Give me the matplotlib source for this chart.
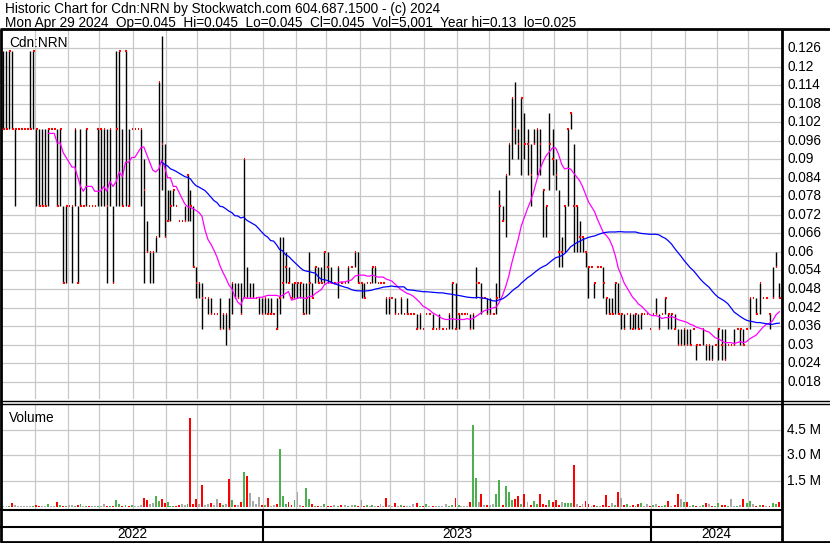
import numpy as np
import pandas as pd
import matplotlib
matplotlib.use('Agg')
import matplotlib.pyplot as plt
from matplotlib.lines import Line2D

plt.rcParams['font.family'] = ['Liberation Sans', 'DejaVu Sans']

# price bars, roughly two trading days each, (low, high, close) in 1/1000 $
price_bars = [
    # May 2022
    [(100,125,100),(100,125,100),(100,125,125),(100,125,100),(75,100,100),(100,100,100),(100,100,100),(100,100,100),(100,100,100),(100,125,100),(100,125,125)],
    # Jun
    [(75,100,100),(75,100,75),(75,100,75),(75,100,75),(75,100,100),(100,100,100),(100,100,100),(75,100,75),(75,100,100),(50,75,50),(50,75,75)],
    # Jul
    [(75,75,75),(50,75,75),(75,100,100),(50,75,50),(75,100,75),(75,75,75),(75,100,100),(75,75,75),(75,75,75),(75,75,75),(75,100,100)],
    # Aug
    [(75,100,100),(75,100,100),(50,100,75),(75,100,100),(50,75,50),(75,125,100),(75,125,125),(75,100,75),(75,125,125),(75,100,75),(100,100,100)],
    # Sep
    [(100,100,100),(100,100,100),(75,100,100),(50,90,80),(60,70,60),(50,60,60),(50,60,60),(60,65,65),(65,115,115),(80,130,95),(65,95,65)],
    # Oct
    [(70,80,70),(70,80,75),(75,80,80),(75,75,75),(70,70,70),(70,70,70),(70,75,70),(70,85,85),(70,80,75),(55,75,55),(45,55,50)],
    # Nov
    [(45,50,50),(35,50,45),(45,45,45),(40,45,45),(40,45,40),(40,40,40),(40,40,40),(35,45,35),(35,40,40),(30,40,40),(35,45,35)],
    # Dec
    [(40,50,50),(45,50,45),(45,50,45),(40,50,40),(45,90,90),(45,55,45),(45,50,45),(45,50,45),(45,45,45),(40,45,45),(40,45,40)],
    # Jan 2023
    [(40,45,45),(40,45,40),(40,45,40),(40,40,40),(35,45,35),(40,65,45),(45,65,50),(50,60,55),(50,55,50),(45,50,45),(45,50,50)],
    # Feb
    [(45,50,50),(45,50,50),(40,50,40),(40,50,45),(40,60,50),(45,50,45),(50,55,55),(50,55,50),(50,55,50),(50,60,60)],
    # Mar
    [(50,60,55),(50,55,50),(50,50,50),(45,55,55),(50,50,50),(50,50,50),(50,55,55),(55,55,55),(55,60,60),(50,60,50)],
    # Apr
    [(45,50,50),(45,50,45),(50,50,50),(50,50,50),(50,55,55),(50,55,55),(50,50,50),(50,50,50),(50,50,50),(40,45,45),(40,45,45)],
    # May
    [(45,45,45),(40,45,40),(40,40,40),(40,45,45),(40,40,40),(40,45,40),(40,40,40),(40,40,40),(35,40,35),(35,40,40),(35,35,35)],
    # Jun
    [(40,40,40),(40,40,40),(35,40,35),(35,35,35),(35,40,35),(35,35,35),(35,35,35),(35,40,40),(35,50,50),(35,50,35)],
    # Jul
    [(35,40,40),(40,40,40),(40,40,40),(40,40,40),(35,40,35),(35,40,40),(45,55,50),(50,50,50),(40,50,45),(45,45,45),(40,45,40)],
    # Aug
    [(40,45,40),(40,40,40),(40,50,45),(45,80,75),(70,75,70),(65,85,85),(85,95,95),(90,110,110),(95,115,100),(90,100,95),(85,110,110)],
    # Sep
    [(90,105,95),(85,100,95),(75,95,85),(95,100,95),(85,100,100),(85,100,95),(65,80,80),(65,75,75),(80,105,95),(85,100,90)],
    # Oct
    [(80,90,85),(55,80,60),(55,65,60),(60,75,75),(75,100,100),(100,105,105),(60,95,75),(60,75,75),(60,70,65),(60,65,65),(55,60,60)],
    # Nov
    [(45,55,55),(55,55,55),(45,50,50),(55,55,55),(55,55,55),(45,55,50),(40,45,45),(40,45,40),(40,45,40),(40,50,50),(40,50,40)],
    # Dec
    [(35,40,40),(35,40,35),(40,40,40),(35,40,40),(35,40,35),(35,40,40),(35,40,35),(35,40,40),(40,40,40),(40,40,40),(35,35,35)],
    # Jan 2024
    [(40,40,40),(40,45,40),(35,40,35),(40,40,40),(40,45,45),(35,40,40),(35,40,40),(35,40,35),(30,35,30),(30,35,30),(30,35,35)],
    # Feb
    [(30,35,30),(30,35,30),(35,35,35),(25,30,30),(30,30,30),(30,35,35),(25,30,30),(25,30,30),(25,30,25),(30,30,30)],
    # Mar
    [(25,35,35),(25,35,30),(25,35,25),(30,30,30),(30,30,30),(30,35,30),(35,35,35),(30,35,35),(30,35,30),(35,35,35)],
    # Apr
    [(35,45,45),(45,45,45),(40,45,40),(40,50,50),(45,45,45),(45,45,45),(35,40,40),(45,55,45),(55,60,55),(45,50,45)],
]

# volume per bar, thousands of shares
volumes = [
    [60, 40, 60, 240, 100, 40, 40, 60, 40, 60, 80],
    [120, 60, 60, 80, 150, 40, 60, 260, 100, 60, 80],
    [100, 100, 80, 100, 150, 60, 40, 60, 40, 80, 60],
    [60, 150, 60, 60, 80, 400, 150, 60, 120, 60, 120],
    [60, 80, 100, 500, 400, 200, 250, 640, 350, 450, 250],
    [300, 80, 60, 80, 100, 200, 100, 200, 5200, 150, 450],
    [150, 1260, 100, 150, 250, 100, 450, 250, 100, 200, 1640],
    [430, 100, 100, 300, 2030, 1800, 800, 340, 150, 600, 100],
    [100, 550, 60, 100, 150, 3400, 640, 150, 300, 100, 400],
    [850, 100, 80, 1100, 450, 150, 60, 80, 60, 150],
    [60, 80, 120, 80, 100, 120, 60, 100, 100, 80],
    [380, 60, 120, 60, 100, 60, 80, 200, 80, 530, 100],
    [80, 250, 60, 100, 60, 80, 60, 150, 250, 60, 80],
    [200, 60, 80, 80, 60, 60, 150, 60, 100, 550],
    [100, 60, 80, 60, 300, 4800, 1700, 270, 780, 100, 100],
    [100, 150, 750, 1580, 100, 1240, 900, 380, 450, 620, 150],
    [780, 300, 100, 350, 150, 780, 200, 120, 380, 300],
    [400, 100, 300, 250, 250, 250, 2450, 150, 80, 150, 340],
    [150, 60, 100, 60, 60, 100, 670, 60, 250, 100, 900],
    [550, 100, 150, 60, 100, 60, 150, 250, 60, 150, 60],
    [100, 150, 60, 60, 100, 340, 60, 100, 740, 450, 300],
    [300, 60, 120, 60, 60, 100, 250, 150, 60, 80],
    [250, 120, 100, 60, 450, 60, 80, 100, 450, 250],
    [340, 150, 60, 100, 100, 60, 80, 250, 150, 300],
]

price_ticks = [0.018, 0.024, 0.03, 0.036, 0.042, 0.048, 0.054, 0.06, 0.066, 0.072,
               0.078, 0.084, 0.09, 0.096, 0.102, 0.108, 0.114, 0.12, 0.126]
vol_ticks = [1.5, 3.0, 4.5]
years = ['2022', '2023', '2024']
header1 = 'Historic Chart for Cdn:NRN by Stockwatch.com 604.687.1500 - (c) 2024'
header2 = 'Mon Apr 29 2024  Op=0.045  Hi=0.045  Lo=0.045  Cl=0.045  Vol=5,001  Year hi=0.13  lo=0.025'

# x axis in trading days
bdays = pd.bdate_range('2022-05-02', '2024-04-30')
mstarts = pd.date_range('2022-05-01', '2024-05-01', freq='MS')
midx = np.searchsorted(bdays.values, mstarts.values)
ndays = len(bdays)

xs, lo, hi, cl, vol = [], [], [], [], []
for m, bars in enumerate(price_bars):
    s, e = midx[m], midx[m + 1]
    k = len(bars)
    for i, b in enumerate(bars):
        xs.append(s + (i + 0.5) * (e - s) / k)
        lo.append(b[0] / 1000)
        hi.append(b[1] / 1000)
        cl.append(b[2] / 1000)
    vol.extend(v / 1000 for v in volumes[m])
xs, lo, hi, cl, vol = map(np.array, (xs, lo, hi, cl, vol))

ma_fast = pd.Series(cl).rolling(16).mean()
ma_slow = pd.Series(cl).rolling(54).mean()

chg = np.diff(cl, prepend=cl[0])
vcol = np.where(chg > 0, '#4caf50', np.where(chg < 0, '#ff0000', '#a8a8a8'))

W, H = 830, 543
fig = plt.figure(figsize=(W / 100, H / 100), dpi=100)
fig.patch.set_facecolor('white')

def box(x0, y0, x1, y1):
    return [x0 / W, 1 - y1 / H, (x1 - x0) / W, (y1 - y0) / H]

grid_c = '#c8c8c8'

# price panel
ax = fig.add_axes(box(2, 30, 781, 399))
ax.set_xlim(0, ndays)
ax.set_ylim(0.01236, 0.13193)
for t in price_ticks:
    ax.axhline(t, color=grid_c, lw=0.9, zorder=0)
for m in midx[1:-1]:
    ax.axvline(m, color=grid_c, lw=0.9, zorder=0)
sel = hi > lo
ax.vlines(xs[sel], lo[sel], hi[sel], color='black', lw=1.0, zorder=2)
ax.hlines(cl, xs - 0.1, xs + 0.9, color='#ff0000', lw=1.5, zorder=3)
ax.plot(xs, ma_fast, color='#ff00ff', lw=0.9, zorder=4)
ax.plot(xs, ma_slow, color='#0000ff', lw=0.9, zorder=4)
ax.set_xticks([])
ax.set_yticks([])
for sp in ax.spines.values():
    sp.set_visible(False)
ax.text(0.009, 0.985, 'Cdn:NRN', transform=ax.transAxes, fontsize=9.8, va='top', ha='left')

# volume panel
axv = fig.add_axes(box(2, 404, 781, 509))
axv.set_xlim(0, ndays)
axv.set_ylim(-0.12, 6.0)
for t in vol_ticks:
    axv.axhline(t, color=grid_c, lw=0.9, zorder=0)
for m in midx[1:-1]:
    axv.axvline(m, color=grid_c, lw=0.9, zorder=0)
axv.bar(xs, vol, width=1.3, color=vcol, zorder=2)
axv.set_xticks([])
axv.set_yticks([])
for sp in axv.spines.values():
    sp.set_visible(False)
axv.text(0.009, 0.93, 'Volume', transform=axv.transAxes, fontsize=9.8, va='top', ha='left')

# overlay for frame, header and axis labels (pixel coordinates)
ov = fig.add_axes([0, 0, 1, 1], zorder=10)
ov.set_xlim(0, W)
ov.set_ylim(H, 0)
ov.axis('off')
ov.patch.set_alpha(0)

def seg(x0, y0, x1, y1, lw=1.5):
    ov.add_line(Line2D([x0, x1], [y0, y1], color='black', lw=lw, solid_capstyle='butt'))

seg(0, 29, W, 29, 2)
seg(1, 29, 1, 542, 2)
seg(781.5, 29, 781.5, 542, 2)
seg(0, 401, W, 401, 1)
seg(0, 404, W, 404, 1)
seg(0, 510, 781.5, 510, 1.5)
seg(0, 526.5, 781.5, 526.5, 1.5)
seg(0, 541.5, W, 541.5, 2)

ov.text(5, 13, header1, fontsize=9.8, va='baseline', ha='left')
ov.text(5, 26.5, header2, fontsize=9.8, va='baseline', ha='left')

# right axis labels via the panel transforms
for t in price_ticks:
    yp = ax.transData.transform((0, t))[1]
    ov.text(787, H - yp, f'{t:g}', fontsize=9.8, va='center', ha='left')
for t in vol_ticks:
    yp = axv.transData.transform((0, t))[1]
    ov.text(787, H - yp, f'{t:.1f} M', fontsize=9.8, va='center', ha='left')

# year band
to_px = lambda d: 2 + (781 - 2) * d / ndays
ybounds = [0] + [midx[i] for i, d in enumerate(mstarts[:-1]) if d.month == 1] + [ndays]
for i, name in enumerate(years):
    a, b = to_px(ybounds[i]), to_px(ybounds[i + 1])
    if i > 0:
        seg(a, 510, a, 541.5, 1.5)
    ov.text((a + b) / 2, 534.5, name, fontsize=9.8, va='center', ha='center')

fig.savefig('out.png', dpi=100)
